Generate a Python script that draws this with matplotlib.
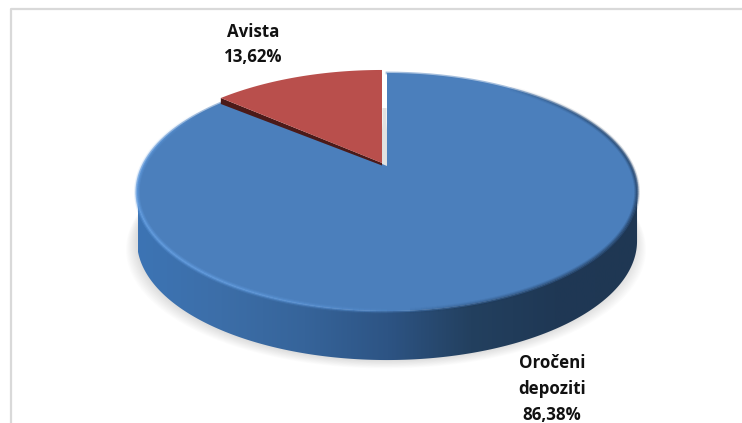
import matplotlib
matplotlib.use("Agg")
import matplotlib.pyplot as plt
from matplotlib.collections import LineCollection
from matplotlib.colors import LinearSegmentedColormap, to_rgb
from matplotlib.patches import Polygon
import numpy as np

labels = ["Oročeni\ndepoziti\n86,38%", "Avista\n13,62%"]
shares = [86.38, 13.62]


# circle -> screen, tilted so the apex sits above the middle of the ellipse
def project(theta, r, cx, cy):
    u = r * np.sin(theta)
    v = r * np.cos(theta)
    d = 1 + 0.2185 * v
    return cx + 244 * u / d, cy - 113.35 * v / d


def outline(start, stop, cx, cy):
    t = np.radians(np.linspace(start, stop, 300))
    x, y = project(t, 1.0, cx, cy)
    return np.r_[cx, x], np.r_[cy, y]


# rim line that fades out at both of its ends
def rim(x, y, color, lw, alpha):
    pts = np.c_[x, y]
    segs = np.stack([pts[:-1], pts[1:]], axis=1)
    fade = np.sin(np.linspace(0, np.pi, len(segs))) ** 0.7
    rgba = np.c_[np.tile(to_rgb(color), (len(segs), 1)), alpha * fade]
    ax.add_collection(LineCollection(segs, colors=rgba, linewidths=lw,
                                     capstyle="butt", zorder=4))


fig = plt.figure(figsize=(7.42, 4.23), dpi=100)
ax = fig.add_axes([0, 0, 1, 1])
ax.set_xlim(0, 742)
ax.set_ylim(423, 0)
ax.axis("off")

# chart frame
ax.plot([10.5, 10.5, 742], [423, 9, 9], color="#d9d9d9", lw=1.6, zorder=1)

blue_deg = shares[0] * 3.6
cx, cy = 387, 166

# soft shadow under the disc
x, y = project(np.radians(np.linspace(0, 360, 400)), 1.0, cx, cy + 50)
for grow in np.linspace(10, 0, 11):
    ax.fill(cx + (x - cx) * (1 + grow / 250) - 1, y + grow * 0.75, color="black",
            alpha=0.012, lw=0, zorder=2)

# side wall with its left to right shading
depth = 49
t = np.radians(np.linspace(102.6, 257.4, 300))
tx, ty = project(t, 1.0, cx, cy)
wall = np.r_[tx, tx[::-1]], np.r_[ty, ty[::-1] + depth]
side = Polygon(np.c_[wall[0], wall[1]], closed=True, transform=ax.transData,
               fc="none", ec="none", zorder=3)
ax.add_patch(side)
shade = LinearSegmentedColormap.from_list(
    "side", ["#3d74b4", "#3c6ea8", "#36649a", "#2d5484", "#23405f", "#1f3855", "#1f3753"])
img = ax.imshow(np.linspace(0, 1, 256)[None, :], cmap=shade, aspect="auto",
                extent=(138, 638, 423, 0), zorder=3)
img.set_clip_path(side)
ax.set_xlim(0, 742)
ax.set_ylim(423, 0)

# top of the blue slice, with a blurred rim
bx, by = outline(0, blue_deg, cx, cy)
ax.fill(bx, by, color="#4b7fbc", lw=0, zorder=4)
ax.plot(bx[1:], by[1:], color="#4b7fbc", lw=2, alpha=0.5, zorder=4)
for lw, alpha in [(4, 0.2), (2.5, 0.3), (1.2, 0.4)]:
    rim(bx[35:172], by[35:172], "#1f3a5c", lw, alpha)
    rim(bx[172:292], by[172:292], "#69a5ea", lw, alpha)

# red slice pulled out of the pie, dark cut edge first
rx, ry = outline(blue_deg, 360, 382, 163)
edge = np.array([[rx[1], ry[1]], [382, 163], [382, 165.5], [rx[1], ry[1] + 6]])
ax.add_patch(Polygon(edge, closed=True, fc="#4b1a19", ec="none", zorder=5))
ax.fill(rx, ry, color="#b94f4c", lw=0, zorder=6)

# grey sliver in the gap between the slices
ax.fill([382.5, 386.5, 386.5, 382.5], [108, 108, 167, 164], color="#e2e2e2", lw=0, zorder=3)

font = dict(family="Open Sans", fontsize=12.2, fontweight="bold", color="#111111",
            ha="center", va="center", linespacing=1.55)
ax.text(253, 44.5, labels[1], **font)
ax.text(552, 389, labels[0], **font)

fig.savefig("out.png", dpi=100)
